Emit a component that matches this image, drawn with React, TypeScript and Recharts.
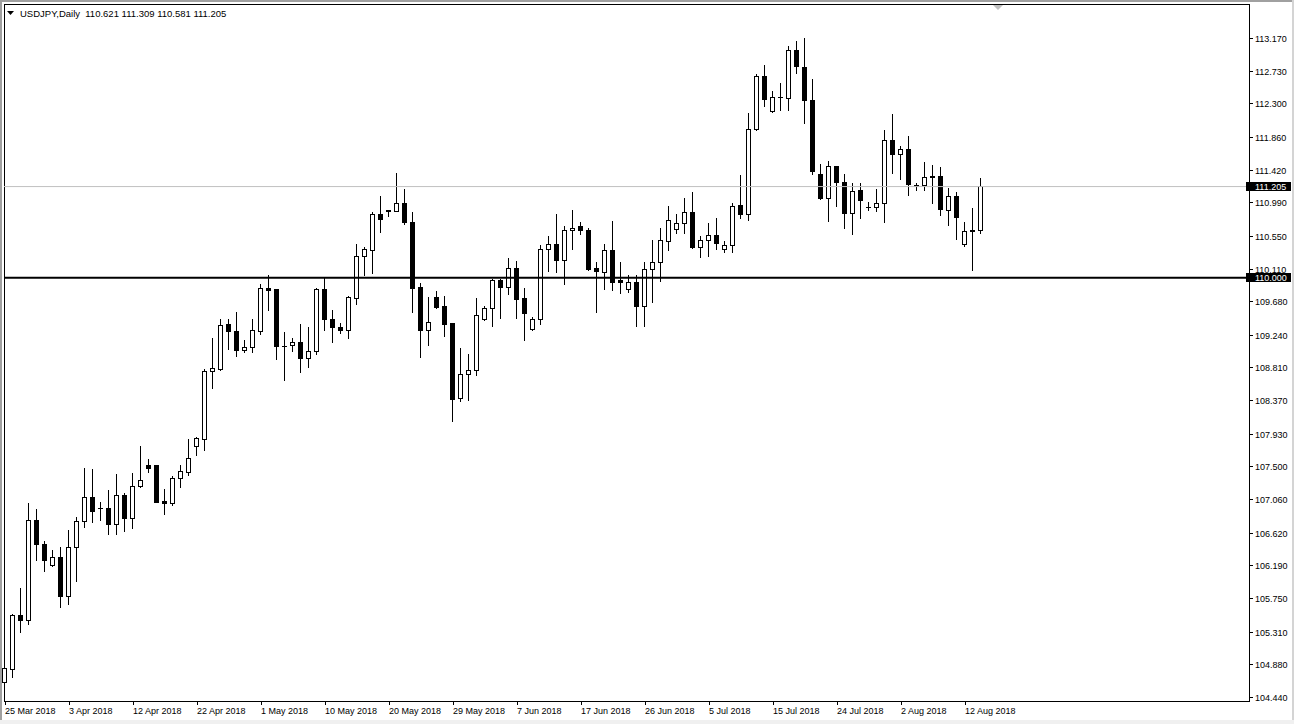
import { Bar, ComposedChart, ReferenceLine, XAxis, YAxis } from "recharts";

// USDJPY daily candles, 25 Mar 2018 .. 14 Aug 2018
const opens = [
  104.642, 104.819, 105.534, 105.468, 106.79, 106.473, 106.19, 106.301, 105.78, 106.433,
  106.777, 107.095, 106.951, 106.949, 106.737, 107.121, 106.812, 107.24, 107.509, 107.509,
  107.042, 107.015, 107.346, 107.425, 107.769, 107.857, 108.761, 108.788, 109.374, 109.294,
  109.043, 109.073, 109.285, 109.859, 109.837, 109.087, 109.1, 109.136, 108.928, 109.021,
  109.837, 109.449, 109.343, 109.304, 109.727, 110.277, 110.362, 110.842, 110.88, 110.878,
  110.984, 110.732, 109.872, 109.304, 109.744, 109.612, 109.396, 108.399, 108.722, 108.769,
  109.44, 109.595, 109.956, 109.872, 110.124, 109.727, 109.317, 109.449, 110.375, 110.441,
  110.224, 110.626, 110.679, 110.626, 110.124, 110.071, 110.362, 109.956, 109.846, 109.938,
  109.616, 110.111, 110.203, 110.481, 110.64, 110.719, 110.865, 110.401, 110.494, 110.56,
  110.37, 110.428, 110.957, 110.838, 111.962, 112.664, 112.201, 112.377, 112.367, 113.007,
  112.783, 112.35, 111.367, 111.044, 111.464, 111.265, 110.846, 111.159, 110.929, 110.931,
  110.984, 111.817, 111.627, 111.689, 111.222, 111.222, 111.341, 111.341, 110.891, 111.076,
  110.436, 110.621, 110.621,
];
const highs = [
  104.863, 105.54, 105.891, 107.006, 106.927, 106.507, 106.397, 106.437, 106.649, 106.83,
  107.482, 107.456, 107.032, 107.191, 107.39, 107.147, 107.412, 107.773, 107.597, 107.515,
  107.2, 107.372, 107.509, 107.853, 107.88, 108.788, 109.189, 109.453, 109.453, 109.536,
  109.175, 109.44, 109.916, 110.022, 109.846, 109.272, 109.189, 109.387, 109.347, 109.863,
  109.989, 109.559, 109.4, 109.748, 110.445, 110.402, 110.859, 111.08, 110.895, 111.38,
  111.169, 110.865, 109.925, 109.731, 109.823, 109.748, 109.4, 109.066, 108.986, 109.727,
  109.616, 109.978, 109.978, 110.26, 110.22, 109.85, 109.476, 110.419, 110.538, 110.842,
  110.683, 110.895, 110.736, 110.653, 110.207, 110.445, 110.749, 110.207, 110.022, 110.035,
  110.207, 110.485, 110.644, 110.935, 110.829, 111.05, 111.129, 110.551, 110.723, 110.776,
  110.472, 110.978, 111.349, 112.165, 112.694, 112.8, 112.456, 112.562, 113.064, 113.13,
  113.17, 112.615, 111.503, 111.53, 111.47, 111.371, 111.239, 111.239, 110.992, 111.16,
  111.953, 112.152, 111.729, 111.861, 111.248, 111.517, 111.49, 111.451, 111.173, 111.133,
  110.732, 110.921, 111.309,
];
const lows = [
  104.612, 104.708, 105.303, 105.415, 106.256, 106.11, 106.18, 105.634, 105.674, 105.978,
  106.692, 106.759, 106.785, 106.6, 106.6, 106.64, 106.679, 107.23, 107.42, 107.023,
  106.864, 106.989, 107.222, 107.38, 107.645, 107.711, 108.531, 108.778, 109.047, 108.954,
  109.007, 109.007, 109.245, 109.572, 108.911, 108.637, 109.017, 108.743, 108.809, 108.984,
  109.298, 109.14, 109.259, 109.193, 109.642, 110.026, 110.052, 110.595, 110.806, 110.875,
  110.706, 109.536, 108.941, 109.1, 109.595, 109.219, 108.095, 108.364, 108.372, 108.712,
  109.431, 109.351, 109.457, 109.775, 109.457, 109.175, 109.298, 109.378, 110.084, 110.066,
  109.907, 110.366, 110.573, 110.097, 109.536, 109.846, 109.827, 109.793, 109.801, 109.351,
  109.351, 109.669, 109.947, 110.357, 110.581, 110.581, 110.383, 110.264, 110.277, 110.37,
  110.33, 110.33, 110.78, 110.753, 111.944, 112.261, 112.182, 112.21, 112.21, 112.703,
  112.037, 111.358, 111.04, 110.74, 110.939, 110.648, 110.568, 110.78, 110.895, 110.878,
  110.727, 111.375, 111.296, 111.084, 111.156, 111.15, 110.978, 110.82, 110.687, 110.502,
  110.41, 110.092, 110.581,
];
const closes = [
  104.833, 105.534, 105.462, 106.79, 106.473, 106.256, 106.301, 105.78, 106.433, 106.781,
  107.095, 106.904, 106.945, 106.737, 107.121, 106.812, 107.24, 107.314, 107.482, 107.032,
  107.015, 107.343, 107.438, 107.61, 107.875, 108.765, 108.792, 109.361, 109.285, 109.034,
  109.079, 109.304, 109.859, 109.827, 109.087, 109.092, 109.136, 108.928, 109.027, 109.837,
  109.444, 109.338, 109.298, 109.731, 110.277, 110.366, 110.842, 110.767, 110.886, 110.984,
  110.732, 109.859, 109.298, 109.409, 109.603, 109.378, 108.391, 108.722, 108.774, 109.502,
  109.595, 109.956, 109.867, 110.124, 109.714, 109.528, 109.449, 110.375, 110.441, 110.224,
  110.626, 110.653, 110.621, 110.114, 110.079, 110.362, 109.933, 109.933, 109.938, 109.616,
  110.111, 110.203, 110.485, 110.759, 110.719, 110.865, 110.396, 110.494, 110.56, 110.454,
  110.428, 110.944, 110.838, 111.962, 112.664, 112.354, 112.386, 112.382, 113.007, 112.791,
  112.341, 111.402, 111.044, 111.464, 111.256, 110.846, 111.146, 111.018, 110.933, 110.984,
  111.817, 111.627, 111.698, 111.23, 111.209, 111.327, 111.327, 110.904, 111.071, 110.798,
  110.608, 110.608, 111.205,
];

const dateLabels = [
  "25 Mar 2018", "3 Apr 2018", "12 Apr 2018", "22 Apr 2018", "1 May 2018", "10 May 2018",
  "20 May 2018", "29 May 2018", "7 Jun 2018", "17 Jun 2018", "26 Jun 2018", "5 Jul 2018",
  "15 Jul 2018", "24 Jul 2018", "2 Aug 2018", "12 Aug 2018",
];
const barsPerDateLabel = 8;

const priceTicks = [
  104.44, 104.88, 105.31, 105.75, 106.19, 106.62, 107.06, 107.5, 107.93, 108.37, 108.81,
  109.24, 109.68, 110.11, 110.55, 110.99, 111.42, 111.86, 112.3, 112.73, 113.17,
];
const levelPrice = 110.0;
const symbol = "USDJPY,Daily";
const priceMin = 104.4;
const priceMax = 113.62;
const shiftSlots = 33; // empty space right of the last bar

const FONT = '"Liberation Sans", Arial, sans-serif';

const last = opens.length - 1;
const bidPrice = closes[last];

const rows = Array.from({ length: opens.length + shiftSlots }, (_, i) =>
  i <= last
    ? {
        i,
        open: opens[i],
        high: highs[i],
        low: lows[i],
        close: closes[i],
        range: [lows[i], highs[i]],
      }
    : { i }
);

const dateTicks = dateLabels.map((_, k) => k * barsPerDateLabel);

function Candle(props: any) {
  const { x, y, width, height, payload } = props;
  if (!payload || payload.open == null) return null;
  const { open, high, low, close } = payload;
  const cx = Math.floor(x + width / 2) + 0.5;
  const perUnit = high > low ? height / (high - low) : 0;
  const yOf = (v: number) => y + (high - v) * perUnit;
  const top = Math.floor(yOf(Math.max(open, close))) + 0.5;
  const bot = Math.floor(yOf(Math.min(open, close))) + 0.5;
  const wickTop = Math.floor(yOf(high));
  const wickBot = Math.floor(yOf(low)) + 1;
  const bull = close >= open;
  return (
    <g>
      <line x1={cx} x2={cx} y1={wickTop} y2={wickBot} stroke="#000" strokeWidth={1} />
      {bot - top < 1 ? (
        <line x1={cx - 2.5} x2={cx + 2.5} y1={top} y2={top} stroke="#000" strokeWidth={1} />
      ) : (
        <rect
          x={cx - 2}
          y={top}
          width={4}
          height={bot - top}
          fill={bull ? "#fff" : "#000"}
          stroke="#000"
          strokeWidth={1}
        />
      )}
    </g>
  );
}

function DateTick({ x, y, payload }: any) {
  const label = dateLabels[Math.round(payload.value / barsPerDateLabel)];
  const px = Math.floor(x) + 0.5;
  return (
    <g>
      <line x1={px} x2={px} y1={y - 4} y2={y} stroke="#000" />
      <text x={x} y={y + 9} fontSize={9} fontFamily={FONT} fill="#000">
        {label}
      </text>
    </g>
  );
}

function PriceTick({ x, y, payload }: any) {
  const v = payload.value as number;
  const label = v.toFixed(3);
  const row = Math.floor(y);
  if (v === levelPrice || v === bidPrice) {
    return (
      <g>
        <rect x={x - 9} y={row - 4} width={45} height={9} fill="#000" />
        <text x={x} y={row + 4} fontSize={9} fontFamily={FONT} fill="#fff">
          {label}
        </text>
      </g>
    );
  }
  return (
    <g>
      <line x1={x - 6} x2={x - 2} y1={row + 0.5} y2={row + 0.5} stroke="#000" />
      <text x={x} y={row + 4} fontSize={9} fontFamily={FONT} fill="#000">
        {label}
      </text>
    </g>
  );
}

export default function App() {
  return (
    <div
      style={{
        position: "absolute",
        left: 0,
        top: 0,
        width: 1294,
        height: 724,
        background: "#fff",
        overflow: "hidden",
      }}
    >
      {/* window edges */}
      <div style={{ position: "absolute", left: 0, top: 0, width: 1294, height: 2, background: "#a0a0a0" }} />
      <div style={{ position: "absolute", left: 0, top: 0, width: 2, height: 724, background: "#a0a0a0" }} />
      <div style={{ position: "absolute", left: 1292, top: 0, width: 2, height: 724, background: "#d4d4d4" }} />
      <div style={{ position: "absolute", left: 0, top: 720, width: 1294, height: 4, background: "#f0f0f0" }} />
      {/* chart frame */}
      <div
        style={{
          position: "absolute",
          left: 4,
          top: 4,
          width: 1246,
          height: 698,
          border: "1px solid #000",
          boxSizing: "border-box",
        }}
      />
      <div style={{ position: "absolute", left: 0, top: 0 }}>
        <ComposedChart
          width={1294}
          height={724}
          data={rows}
          margin={{ top: 4, right: 0, bottom: 0, left: 4 }}
        >
          <XAxis
            dataKey="i"
            type="category"
            ticks={dateTicks}
            interval={0}
            height={23}
            padding={{ left: -3, right: 0 }}
            allowDataOverflow
            axisLine={false}
            tickLine={false}
            tickSize={4}
            tickMargin={0}
            tick={<DateTick />}
          />
          <YAxis
            orientation="right"
            type="number"
            width={45}
            domain={[priceMin, priceMax]}
            allowDataOverflow
            ticks={[...priceTicks, bidPrice, levelPrice]}
            interval={0}
            axisLine={false}
            tickLine={false}
            tickSize={4}
            tickMargin={2}
            tick={<PriceTick />}
          />
          <Bar dataKey="range" shape={<Candle />} isAnimationActive={false} />
          <ReferenceLine y={bidPrice} stroke="#c0c0c0" strokeWidth={1} />
          <ReferenceLine y={levelPrice} stroke="#000" strokeWidth={2} />
        </ComposedChart>
      </div>
      {/* shift marker */}
      <svg style={{ position: "absolute", left: 993, top: 4 }} width={11} height={7}>
        <polygon points="0,1 10,1 5,6" fill="#c0c0c0" />
      </svg>
      {/* header */}
      <svg style={{ position: "absolute", left: 0, top: 5 }} width={320} height={16}>
        <polygon points="7,6 14,6 10.5,10" fill="#000" />
        <text x={20} y={11.5} fontSize={9.5} fontFamily={FONT} fill="#000" style={{ whiteSpace: "pre" }}>
          {`${symbol}  ${opens[last].toFixed(3)} ${highs[last].toFixed(3)} ${lows[last].toFixed(3)} ${closes[last].toFixed(3)}`}
        </text>
      </svg>
    </div>
  );
}
